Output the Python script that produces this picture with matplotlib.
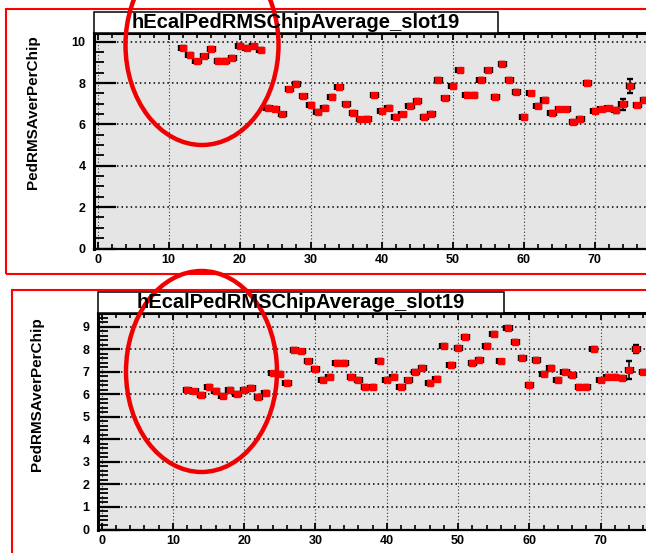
import numpy as np
import matplotlib
matplotlib.use("Agg")
import matplotlib.pyplot as plt
from matplotlib.patches import Ellipse, Rectangle
from matplotlib.ticker import MultipleLocator

plt.rcParams['font.family'] = ['Liberation Sans', 'DejaVu Sans']
plt.rcParams['font.weight'] = 'bold'

W, H = 646, 553

title = "hEcalPedRMSChipAverage_slot19"
ylabel = "PedRMSAverPerChip"

# chip averages, slot 19 (upper: before, lower: after)
chips_top = list(range(12, 78))
rms_top = [9.70, 9.38, 9.05, 9.29, 9.65, 9.09, 9.09, 9.21, 9.80, 9.70, 9.78, 9.62,
           6.81, 6.76, 6.49, 7.69, 7.95, 7.35, 6.96, 6.61, 6.80, 7.33, 7.80, 6.97,
           6.57, 6.25, 6.28, 7.40, 6.65, 6.81, 6.38, 6.49, 6.89, 7.13, 6.38, 6.52,
           8.17, 7.26, 7.85, 8.62, 7.42, 7.42, 8.17, 8.62, 7.34, 8.94, 8.14, 7.56,
           6.36, 7.50, 6.89, 7.18, 6.57, 6.73, 6.73, 6.14, 6.28, 8.01, 6.65, 6.73,
           6.78, 6.68, 6.97, 7.85, 6.92, 7.18]
err_top = [0.08, 0.08, 0.08, 0.08, 0.08, 0.08, 0.08, 0.08, 0.08, 0.08, 0.08, 0.08,
           0.08, 0.08, 0.08, 0.08, 0.08, 0.08, 0.08, 0.08, 0.08, 0.08, 0.08, 0.08,
           0.08, 0.08, 0.08, 0.08, 0.08, 0.08, 0.08, 0.08, 0.08, 0.08, 0.08, 0.08,
           0.08, 0.08, 0.08, 0.08, 0.08, 0.08, 0.08, 0.08, 0.08, 0.08, 0.08, 0.08,
           0.08, 0.08, 0.08, 0.08, 0.08, 0.08, 0.08, 0.08, 0.08, 0.08, 0.08, 0.08,
           0.08, 0.12, 0.26, 0.35, 0.08, 0.08]

chips_bot = list(range(12, 77))
rms_bot = [6.19, 6.12, 5.97, 6.34, 6.15, 5.93, 6.19, 6.00, 6.19, 6.27, 5.87, 6.05,
           6.92, 6.90, 6.49, 7.98, 7.90, 7.45, 7.11, 6.62, 6.78, 7.38, 7.38, 6.78,
           6.64, 6.34, 6.34, 7.49, 6.64, 6.78, 6.34, 6.61, 6.98, 7.15, 6.49, 6.68,
           8.14, 7.31, 8.07, 8.53, 7.38, 7.52, 8.14, 8.66, 7.45, 8.95, 8.33, 7.60,
           6.42, 7.52, 6.90, 7.15, 6.64, 7.00, 6.86, 6.34, 6.31, 8.00, 6.61, 6.78,
           6.78, 6.71, 7.08, 8.02, 7.00]
err_bot = [0.08, 0.08, 0.08, 0.08, 0.08, 0.08, 0.08, 0.08, 0.08, 0.08, 0.08, 0.08,
           0.08, 0.08, 0.08, 0.08, 0.08, 0.08, 0.08, 0.08, 0.08, 0.08, 0.08, 0.08,
           0.08, 0.08, 0.08, 0.08, 0.08, 0.08, 0.08, 0.08, 0.08, 0.08, 0.08, 0.08,
           0.08, 0.08, 0.08, 0.08, 0.08, 0.08, 0.08, 0.08, 0.08, 0.08, 0.08, 0.08,
           0.08, 0.08, 0.08, 0.08, 0.08, 0.08, 0.08, 0.08, 0.08, 0.08, 0.08, 0.08,
           0.08, 0.08, 0.40, 0.18, 0.08]


def fx(px):
    return px / W


def fy(py):
    return 1 - py / H


fig = plt.figure(figsize=(W / 100, H / 100), dpi=100)
fig.patch.set_facecolor("white")


def panel(left, top, bottom, ppu, ymax, ymajor, yminor, chips, rms, err, box_right):
    xmin, xmax = -0.5, 79.5
    right = left + (xmax - xmin) * ppu
    ax = fig.add_axes([fx(left), fy(bottom), fx(right - left), (bottom - top) / H])
    ax.set_facecolor("#e5e5e5")
    ax.errorbar(chips, rms, xerr=0.5, yerr=err, fmt="s", color="black",
                ms=3.8, mfc="red", mec="red", elinewidth=1.1,
                capsize=2.4, capthick=1.7, zorder=3)
    ax.set_xlim(xmin, xmax)
    ax.set_ylim(0, ymax)
    ax.xaxis.set_major_locator(MultipleLocator(10))
    ax.xaxis.set_minor_locator(MultipleLocator(2))
    ax.yaxis.set_major_locator(MultipleLocator(ymajor))
    ax.yaxis.set_minor_locator(MultipleLocator(yminor))
    ax.tick_params(axis="y", which="major", direction="in", length=16, width=1.6,
                   pad=6, labelsize=9)
    ax.tick_params(axis="y", which="minor", direction="in", length=7, width=1.3)
    ax.tick_params(axis="x", which="major", direction="in", length=5, width=1.3,
                   top=True, pad=4, labelsize=9)
    ax.tick_params(axis="x", which="minor", direction="in", length=3.5, width=1.2,
                   top=True)
    for lab in ax.get_xticklabels() + ax.get_yticklabels():
        lab.set_fontweight("bold")
    ax.grid(True, axis="y", which="major", color="black", linestyle=(0, (1, 2)),
            linewidth=1.1)
    ax.grid(True, axis="x", which="major", color="#333333", linestyle=(0, (1, 2)),
            linewidth=0.8)
    ax.set_axisbelow(True)
    ax.spines["left"].set_linewidth(2.2)
    ax.spines["top"].set_linewidth(2.2)
    ax.spines["bottom"].set_linewidth(1.6)

    # title box sitting on top of the frame
    fig.add_artist(Rectangle((fx(left), fy(top)), fx(box_right - left), 21 / H,
                             facecolor="white", edgecolor="black", linewidth=1.1))
    fig.text(fx((left + box_right) / 2), fy(top - 11), title, ha="center",
             va="center", fontsize=14.5, fontweight="bold")
    return ax


ax1 = panel(94, 33, 248.5, 7.1, 10.42, 2, 0.5, chips_top, rms_top, err_top, 498)
ax2 = panel(98, 313, 529.5, 7.13, 9.6, 1, 0.2, chips_bot, rms_bot, err_bot, 504)

fig.text(fx(33), fy(112), ylabel, rotation=90, ha="center", va="center",
         fontsize=11, fontweight="bold")
fig.text(fx(37), fy(394), ylabel, rotation=90, ha="center", va="center",
         fontsize=11, fontweight="bold")

# red frames around each canvas
fig.add_artist(Rectangle((fx(6), fy(274)), fx(700), (274 - 9) / H,
                         facecolor="none", edgecolor="red", linewidth=1.5))
fig.add_artist(Rectangle((fx(12), fy(600)), fx(700), (600 - 290) / H,
                         facecolor="none", edgecolor="red", linewidth=1.5))

# circled region of chips 12-23
fig.add_artist(Ellipse((fx(202), fy(45)), fx(153), 200 / H, facecolor="none",
                       edgecolor="#f00000", linewidth=3.2))
fig.add_artist(Ellipse((fx(201.5), fy(371.5)), fx(151), 201 / H, facecolor="none",
                       edgecolor="#f00000", linewidth=3.2))

plt.savefig("out.png", dpi=100)
